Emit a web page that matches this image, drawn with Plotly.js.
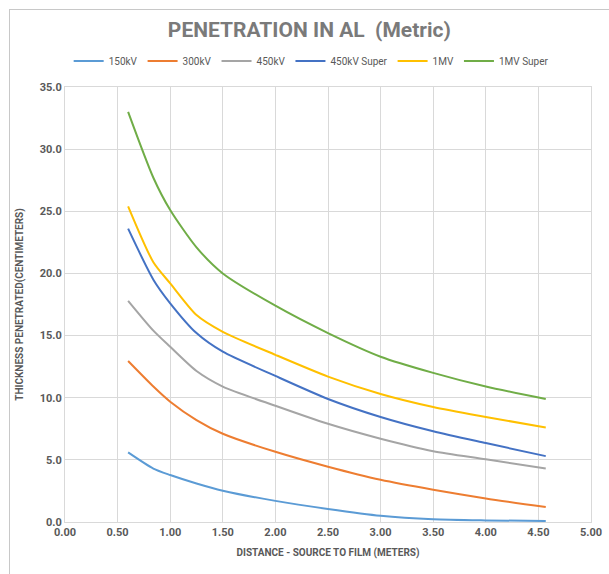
<!DOCTYPE html>
<html>
<head>
<meta charset="utf-8">
<script src="https://cdn.plot.ly/plotly-3.0.1.min.js"></script>
<style>
  html, body { margin: 0; padding: 0; background: #fff; }
  #chart { width: 609px; height: 574px; position: absolute; left: 0; top: 0; }
  #frame { position: absolute; left: 9px; top: 9px; width: 640px; height: 620px; border: 1px solid #c8c8c8; pointer-events: none; }
</style>
</head>
<body>
<div id="chart"></div>
<div id="frame"></div>
<script>
const distance = [0.6, 0.84, 1.0, 1.25, 1.5, 2.0, 2.5, 3.0, 3.5, 4.0, 4.57];
const kv150      = [5.6, 4.3, 3.78, 3.1, 2.52, 1.7, 1.05, 0.5, 0.22, 0.13, 0.08];
const kv300      = [12.95, 10.9, 9.68, 8.2, 7.1, 5.65, 4.45, 3.4, 2.6, 1.9, 1.2];
const kv450      = [17.8, 15.4, 14.1, 12.15, 10.9, 9.35, 7.9, 6.7, 5.7, 5.05, 4.3];
const kv450Super = [23.6, 19.5, 17.6, 15.2, 13.7, 11.75, 9.9, 8.45, 7.3, 6.35, 5.3];
const mv1        = [25.4, 20.9, 19.2, 16.65, 15.3, 13.45, 11.7, 10.3, 9.25, 8.45, 7.6];
const mv1Super   = [33.0, 27.7, 25.1, 22.1, 20.0, 17.4, 15.2, 13.3, 12.0, 10.9, 9.9];

const names  = ['150kV', '300kV', '450kV', '450kV Super', '1MV', '1MV Super'];
const series = [kv150, kv300, kv450, kv450Super, mv1, mv1Super];
const colors = ['#5B9BD5', '#ED7D31', '#A5A5A5', '#4472C4', '#FFC000', '#70AD47'];

const traces = series.map((ys, i) => ({
  x: distance, y: ys, name: names[i], type: 'scatter', mode: 'lines',
  line: { color: colors[i], width: 2, shape: 'spline', smoothing: 0.7 }
}));

const tickFont = { family: 'Roboto, sans-serif', size: 11, color: '#595959', weight: 'bold' };

const layout = {
  width: 609, height: 574,
  margin: { l: 65, r: 18, t: 87, b: 52 },
  paper_bgcolor: '#ffffff', plot_bgcolor: '#ffffff',
  title: {
    text: 'PENETRATION IN AL  (Metric)',
    font: { family: 'Roboto, sans-serif', size: 21, color: '#7a7a7a', weight: 'bold' },
    x: 0.508, xanchor: 'center', xref: 'container', y: 0.948, yanchor: 'middle'
  },
  showlegend: true,
  legend: {
    orientation: 'h', x: 0.468, xanchor: 'center', y: 1.06, yanchor: 'middle',
    font: { family: 'Roboto, sans-serif', size: 10, color: '#595959' },
    itemwidth: 30, tracegroupgap: 0
  },
  xaxis: {
    range: [0, 5], dtick: 0.5, tickformat: '.2f',
    showgrid: true, gridcolor: '#d9d9d9', gridwidth: 1,
    zeroline: false, showline: true, linecolor: '#d9d9d9', mirror: true,
    ticks: '', tickfont: tickFont, fixedrange: true,
    title: { text: 'DISTANCE - SOURCE TO FILM (METERS)', standoff: 10,
      font: { family: 'Roboto, sans-serif', size: 10, color: '#595959', weight: 'bold' } }
  },
  yaxis: {
    range: [0, 35], dtick: 5, tickformat: '.1f',
    showgrid: true, gridcolor: '#d9d9d9', gridwidth: 1,
    zeroline: false, showline: true, linecolor: '#d9d9d9', mirror: true,
    ticks: '', tickfont: tickFont, fixedrange: true,
    title: { text: 'THICKNESS PENETRATED(CENTIMETERS)', standoff: 14,
      font: { family: 'Roboto, sans-serif', size: 10, color: '#595959', weight: 'bold' } }
  }
};

Plotly.newPlot('chart', traces, layout, { displayModeBar: false, staticPlot: true });
</script>
</body>
</html>
